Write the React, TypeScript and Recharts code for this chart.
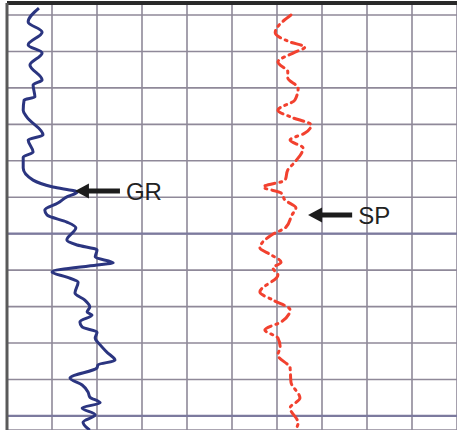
import { LineChart, Line, XAxis, YAxis, CartesianGrid, ReferenceLine } from "recharts";

// depth in log units (one grid row = 10), value in grid units (one column = 10)
const grDepth = [
  -1.9, 1.9, 4.7, 8.2, 10.4, 13.7, 17.8, 19.2, 22.5, 23.3, 26.1, 28.0, 32.9, 34.3, 37.6, 39.0,
  42.0, 45.3, 47.2, 48.6, 49.9, 51.6, 53.5, 54.9, 56.8, 58.4, 61.7, 63.1, 64.5, 66.4, 68.0,
  68.6, 70.5, 71.9, 73.3, 76.3, 78.2, 80.1, 81.5, 82.3, 84.2, 85.6, 87.0, 88.6, 90.5, 92.5,
  94.7, 96.0, 96.8, 99.6, 101.5, 103.4, 104.8, 106.4, 107.8, 109.7, 111.7, 113.9,
];
const grValue = [
  7.1, 4.7, 7.8, 4.7, 7.8, 5.1, 7.8, 5.8, 6.2, 3.8, 3.6, 4.4, 8.0, 4.7, 5.8, 3.6,
  3.6, 5.8, 10.2, 15.6, 13.3, 11.3, 8.4, 8.9, 13.3, 15.3, 13.3, 15.6, 20.0, 19.6, 23.6,
  20.0, 10.0, 13.3, 15.8, 15.1, 17.3, 18.4, 17.8, 18.9, 16.2, 16.7, 20.0, 19.6, 20.7, 22.2,
  24.0, 20.2, 20.0, 14.0, 16.7, 18.0, 18.4, 20.7, 16.7, 19.6, 16.9, 18.4,
];

const spDepth = [
  0, 4.9, 7.4, 8.8, 10.2, 12.9, 15.6, 17.3, 20.0, 23.3, 26.1, 28.0, 30.2, 32.4, 34.3, 36.5,
  40.3, 42.5, 45.3, 47.2, 48.8, 50.8, 52.9, 54.9, 58.2, 60.4, 63.9, 65.8, 67.8, 69.4, 71.3,
  76.0, 78.2, 80.9, 84.2, 86.4, 88.6, 91.1, 93.3, 96.8, 100.7, 105.1, 107.8, 111.9, 113.9,
];
const spValue = [
  63.1, 59.6, 62.9, 66.2, 64.0, 60.2, 62.4, 62.4, 64.7, 64.0, 60.2, 63.1, 67.6, 66.2, 62.9, 65.8,
  64.0, 62.4, 61.8, 56.9, 60.9, 61.8, 64.2, 63.3, 62.0, 58.7, 56.2, 58.7, 60.9, 59.1, 60.2,
  56.2, 59.1, 62.9, 60.9, 57.3, 60.2, 60.7, 60.2, 62.9, 63.1, 65.1, 62.9, 64.7, 64.0,
];

const valueTicks = [0, 10, 20, 30, 40, 50, 60, 70, 80, 90, 100];
const depthTicks = [0, 10, 20, 30, 40, 50, 60, 70, 80, 90, 100, 110];
const heavyDepths = [60, 110];

const grData = grDepth.map((depth, i) => ({ depth, v: grValue[i] }));
const spData = spDepth.map((depth, i) => ({ depth, v: spValue[i] }));

const FONT = "'Liberation Sans', Arial, sans-serif";

function Arrow(props: any) {
  const { x1, y1, x2, text } = props;
  const tip = Math.min(x1, x2);
  const tail = Math.max(x1, x2);
  const y = y1;
  return (
    <g>
      <line x1={tip + 10} y1={y} x2={tail} y2={y} stroke="#1c1c1c" strokeWidth={5} />
      <polygon points={`${tip},${y} ${tip + 14},${y - 7.5} ${tip + 14},${y + 7.5}`} fill="#1c1c1c" />
      <text x={tail + 6} y={y} dy="0.36em" fontSize={24} fontFamily={FONT} fill="#222">
        {text}
      </text>
    </g>
  );
}

export default function App() {
  return (
    <div style={{ position: "absolute", left: 0, top: 0, background: "#fff" }}>
      <LineChart
        width={457}
        height={430}
        layout="vertical"
        margin={{ top: 3, right: 0, bottom: 0, left: 7 }}
      >
        <XAxis type="number" domain={[0, 100]} ticks={valueTicks} hide allowDataOverflow />
        <YAxis
          type="number"
          dataKey="depth"
          domain={[-3.29, 113.85]}
          ticks={depthTicks}
          hide
          allowDataOverflow
        />
        <CartesianGrid stroke="#8f8999" strokeWidth={1.6} />
        {heavyDepths.map((d) => (
          <ReferenceLine key={d} y={d} stroke="#7c7a9e" strokeWidth={2.2} />
        ))}
        <ReferenceLine y={-3.29} stroke="#2a2a2a" strokeWidth={4} />
        <ReferenceLine x={0} stroke="#5a5a5a" strokeWidth={3} />
        <Line
          data={grData}
          dataKey="v"
          type="monotone"
          stroke="#2b3580"
          strokeWidth={3}
          dot={false}
          isAnimationActive={false}
        />
        <Line
          data={spData}
          dataKey="v"
          type="monotone"
          stroke="#f2412f"
          strokeWidth={3}
          strokeDasharray="10 5 2 5"
          strokeLinecap="round"
          dot={false}
          isAnimationActive={false}
        />
        <ReferenceLine
          segment={[{ x: 15.1, y: 48.3 }, { x: 25.1, y: 48.3 }]}
          shape={(p: any) => <Arrow {...p} text="GR" />}
        />
        <ReferenceLine
          segment={[{ x: 66.9, y: 54.9 }, { x: 76.7, y: 54.9 }]}
          shape={(p: any) => <Arrow {...p} text="SP" />}
        />
      </LineChart>
    </div>
  );
}
